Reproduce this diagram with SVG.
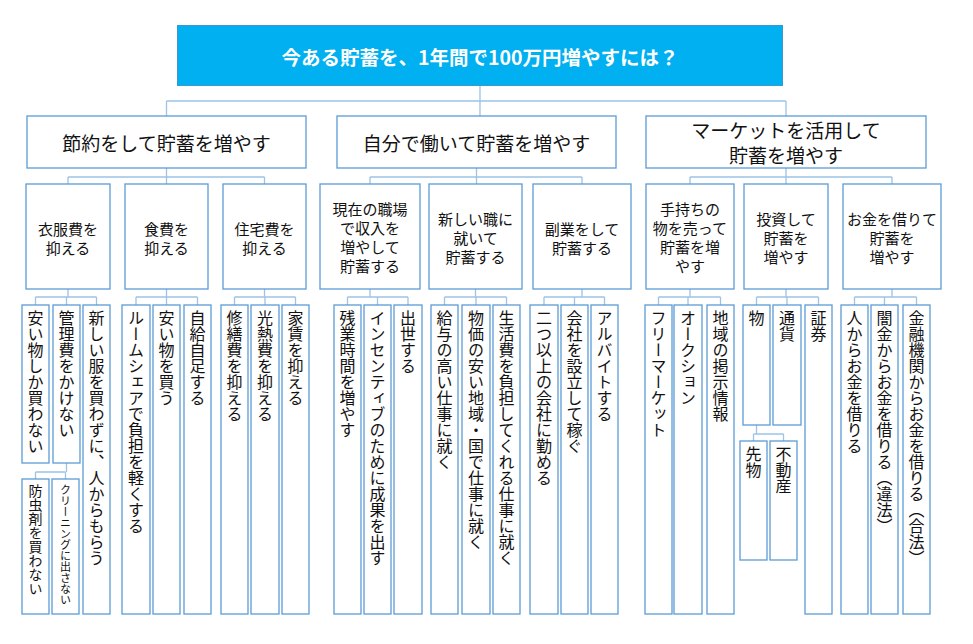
<svg xmlns="http://www.w3.org/2000/svg" width="973" height="644" viewBox="0 0 973 644">
<style>
text{font-family:"Noto Sans CJK JP","Noto Sans CJK SC",sans-serif;fill:#111;}
.box{fill:#fff;stroke:#5B9BD5;stroke-width:1.3;}
.root{fill:#00B0F0;stroke:#3A9AD0;stroke-width:1;}
.con{fill:none;stroke:#9DC3E6;stroke-width:1.3;}
.rt{font-size:19.5px;font-weight:bold;fill:#fff;text-anchor:middle;dominant-baseline:central;}
.t1{font-size:19px;text-anchor:middle;dominant-baseline:central;}
.t2{font-size:15px;text-anchor:middle;dominant-baseline:central;}
.vt{font-size:16px;writing-mode:vertical-rl;}
.vm{font-size:14px;writing-mode:vertical-rl;}
.vs{font-size:11px;writing-mode:vertical-rl;}
</style>
<rect width="973" height="644" fill="#fff"/>
<g id="connectors">
<path class="con" d="M480,85V101M166.5,101H786M166.5,101V116M480,101V116M786,101V116"/>
<path class="con" d="M166.5,168V177M68,177H264.5M68,177V184M166.5,177V184M264.5,177V184"/>
<path class="con" d="M476.5,168V177M370,177H582M370,177V184M476.5,177V184M582,177V184"/>
<path class="con" d="M786,168V177M690,177H892M690,177V184M786,177V184M892,177V184"/>
<path class="con" d="M68,289V297M35.5,297H96.5M35.5,297V305M66.5,297V305M96.5,297V305"/>
<path class="con" d="M166.5,289V297M136,297H197.5M136,297V305M166.5,297V305M197.5,297V305"/>
<path class="con" d="M264.5,289V297M234.5,297H295.5M234.5,297V305M265,297V305M295.5,297V305"/>
<path class="con" d="M370,289V297M347.5,297H408M347.5,297V305M377.5,297V305M408,297V305"/>
<path class="con" d="M475.5,289V297M444.5,297H506.5M444.5,297V305M476,297V305M506.5,297V305"/>
<path class="con" d="M582,289V297M544,297H604.5M544,297V305M574.5,297V305M604.5,297V305"/>
<path class="con" d="M690,289V297M658.5,297H720.5M658.5,297V305M688,297V305M720.5,297V305"/>
<path class="con" d="M786,289V297M756.5,297H818.5M756.5,297V305M787,297V305M818.5,297V305"/>
<path class="con" d="M892,289V297M854.5,297H916.5M854.5,297V305M884.5,297V305M916.5,297V305"/>
<path class="con" d="M66.5,463V472M35.5,472H65.5M35.5,472V479M65.5,472V479"/>
<path class="con" d="M756.5,425V434M753.5,434H783.5M753.5,434V441M783.5,434V441"/>
</g>
<g id="root"><rect class="root" x="177.5" y="25.5" width="605" height="60"/><text class="rt" x="480" y="56">今ある貯蓄を、1年間で100万円増やすには？</text></g>
<g id="n1"><rect class="box" x="27" y="116" width="279" height="52"/><text class="t1" x="166.5" y="142">節約をして貯蓄を増やす</text></g>
<g id="n2"><rect class="box" x="337" y="116" width="279" height="52"/><text class="t1" x="476.5" y="142">自分で働いて貯蓄を増やす</text></g>
<g id="n3"><rect class="box" x="646" y="116" width="280" height="52"/><text class="t1" x="786" y="129">マーケットを活用して</text><text class="t1" x="786" y="154">貯蓄を増やす</text></g>
<g id="n11"><rect class="box" x="26" y="184" width="84" height="105"/><text class="t2" x="68" y="228">衣服費を</text><text class="t2" x="68" y="247">抑える</text></g>
<g id="n12"><rect class="box" x="125" y="184" width="83" height="105"/><text class="t2" x="166.5" y="228">食費を</text><text class="t2" x="166.5" y="247">抑える</text></g>
<g id="n13"><rect class="box" x="223" y="184" width="83" height="105"/><text class="t2" x="264.5" y="228">住宅費を</text><text class="t2" x="264.5" y="247">抑える</text></g>
<g id="n21"><rect class="box" x="320" y="184" width="100" height="105"/><text class="t2" x="370" y="208">現在の職場</text><text class="t2" x="370" y="227">で収入を</text><text class="t2" x="370" y="246">増やして</text><text class="t2" x="370" y="265">貯蓄する</text></g>
<g id="n22"><rect class="box" x="429" y="184" width="93" height="105"/><text class="t2" x="475.5" y="218">新しい職に</text><text class="t2" x="475.5" y="237">就いて</text><text class="t2" x="475.5" y="256">貯蓄する</text></g>
<g id="n23"><rect class="box" x="533" y="184" width="98" height="105"/><text class="t2" x="582" y="228">副業をして</text><text class="t2" x="582" y="247">貯蓄する</text></g>
<g id="n31"><rect class="box" x="646" y="184" width="88" height="105"/><text class="t2" x="690" y="208">手持ちの</text><text class="t2" x="690" y="227">物を売って</text><text class="t2" x="690" y="246">貯蓄を増</text><text class="t2" x="690" y="265">やす</text></g>
<g id="n32"><rect class="box" x="744" y="184" width="84" height="105"/><text class="t2" x="786" y="218">投資して</text><text class="t2" x="786" y="237">貯蓄を</text><text class="t2" x="786" y="256">増やす</text></g>
<g id="n33"><rect class="box" x="843" y="184" width="98" height="105"/><text class="t2" x="892" y="218">お金を借りて</text><text class="t2" x="892" y="237">貯蓄を</text><text class="t2" x="892" y="256">増やす</text></g>
<g id="l111"><rect class="box" x="22" y="305" width="27" height="158"/><text class="vt" x="35.5" y="310">安い物しか買わない</text></g>
<g id="l112"><rect class="box" x="53" y="305" width="27" height="158"/><text class="vt" x="66.5" y="310">管理費をかけない</text></g>
<g id="l113"><rect class="box" x="83" y="305" width="27" height="309"/><text class="vt" x="96.5" y="310">新しい服を買わずに、人からもらう</text></g>
<g id="l1121"><rect class="box" x="22" y="479" width="27" height="135"/><text class="vm" x="35.5" y="484">防虫剤を買わない</text></g>
<g id="l1122"><rect class="box" x="52" y="479" width="27" height="135"/><text class="vs" x="65.5" y="484">クリーニングに出さない</text></g>
<g id="l121"><rect class="box" x="122" y="305" width="28" height="309"/><text class="vt" x="136" y="310">ルームシェアで負担を軽くする</text></g>
<g id="l122"><rect class="box" x="153" y="305" width="27" height="309"/><text class="vt" x="166.5" y="310">安い物を買う</text></g>
<g id="l123"><rect class="box" x="184" y="305" width="27" height="309"/><text class="vt" x="197.5" y="310">自給自足する</text></g>
<g id="l131"><rect class="box" x="221" y="305" width="27" height="309"/><text class="vt" x="234.5" y="310">修繕費を抑える</text></g>
<g id="l132"><rect class="box" x="251" y="305" width="28" height="309"/><text class="vt" x="265" y="310">光熱費を抑える</text></g>
<g id="l133"><rect class="box" x="282" y="305" width="27" height="309"/><text class="vt" x="295.5" y="310">家賃を抑える</text></g>
<g id="l211"><rect class="box" x="334" y="305" width="27" height="309"/><text class="vt" x="347.5" y="310">残業時間を増やす</text></g>
<g id="l212"><rect class="box" x="364" y="305" width="27" height="309"/><text class="vt" x="377.5" y="310">インセンティブのために成果を出す</text></g>
<g id="l213"><rect class="box" x="394" y="305" width="28" height="309"/><text class="vt" x="408" y="310">出世する</text></g>
<g id="l221"><rect class="box" x="431" y="305" width="27" height="309"/><text class="vt" x="444.5" y="310">給与の高い仕事に就く</text></g>
<g id="l222"><rect class="box" x="462" y="305" width="28" height="309"/><text class="vt" x="476" y="310">物価の安い地域・国で仕事に就く</text></g>
<g id="l223"><rect class="box" x="493" y="305" width="27" height="309"/><text class="vt" x="506.5" y="310">生活費を負担してくれる仕事に就く</text></g>
<g id="l231"><rect class="box" x="530" y="305" width="28" height="309"/><text class="vt" x="544" y="310">二つ以上の会社に勤める</text></g>
<g id="l232"><rect class="box" x="561" y="305" width="27" height="309"/><text class="vt" x="574.5" y="310">会社を設立して稼ぐ</text></g>
<g id="l233"><rect class="box" x="591" y="305" width="27" height="309"/><text class="vt" x="604.5" y="310">アルバイトする</text></g>
<g id="l311"><rect class="box" x="645" y="305" width="27" height="309"/><text class="vt" x="658.5" y="310">フリーマーケット</text></g>
<g id="l312"><rect class="box" x="674" y="305" width="28" height="309"/><text class="vt" x="688" y="310">オークション</text></g>
<g id="l313"><rect class="box" x="707" y="305" width="27" height="309"/><text class="vt" x="720.5" y="310">地域の掲示情報</text></g>
<g id="l321"><rect class="box" x="743" y="305" width="27" height="120"/><text class="vt" x="756.5" y="310">物</text></g>
<g id="l322"><rect class="box" x="773" y="305" width="28" height="120"/><text class="vt" x="787" y="310">通貨</text></g>
<g id="l323"><rect class="box" x="805" y="305" width="27" height="309"/><text class="vt" x="818.5" y="310">証券</text></g>
<g id="l3211"><rect class="box" x="740" y="441" width="27" height="119"/><text class="vt" x="753.5" y="446">先物</text></g>
<g id="l3212"><rect class="box" x="770" y="441" width="27" height="119"/><text class="vt" x="783.5" y="446">不動産</text></g>
<g id="l331"><rect class="box" x="841" y="305" width="27" height="309"/><text class="vt" x="854.5" y="310">人からお金を借りる</text></g>
<g id="l332"><rect class="box" x="871" y="305" width="27" height="309"/><text class="vt" x="884.5" y="310">闇金からお金を借りる（違法）</text></g>
<g id="l333"><rect class="box" x="903" y="305" width="27" height="309"/><text class="vt" x="916.5" y="310">金融機関からお金を借りる（合法）</text></g>
</svg>
